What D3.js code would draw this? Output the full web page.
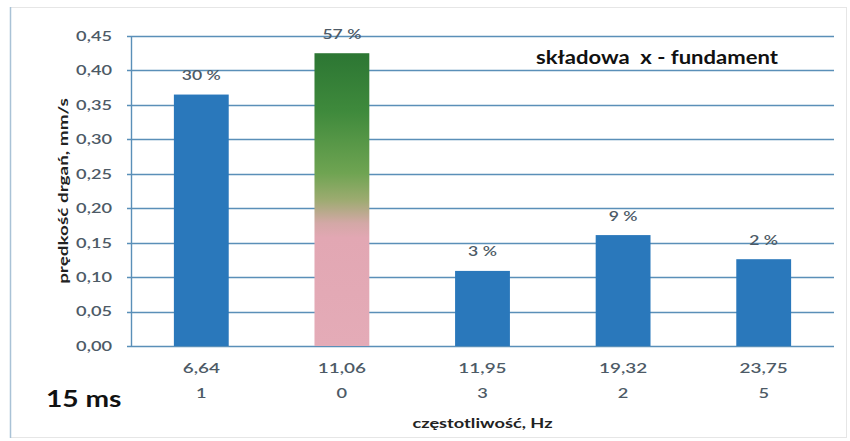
<!DOCTYPE html>
<html><head><meta charset="utf-8">
<script src="https://cdn.jsdelivr.net/npm/d3@7"></script>
<style>body{margin:0;background:#fff;}svg{display:block;font-family:Lato,"Open Sans",sans-serif;}</style>
</head><body><svg id="c" width="850" height="441"></svg>
<script>
const freqLabels = ["6,64","11,06","11,95","19,32","23,75"];
const orderLabels = ["1","0","3","2","5"];
const values = [0.365, 0.425, 0.109, 0.161, 0.126];
const percentLabels = ["30 %","57 %","3 %","9 %","2 %"];
const highlighted = [false, true, false, false, false];
const yTicks = [0,0.05,0.10,0.15,0.20,0.25,0.30,0.35,0.40,0.45];

const svg = d3.select("#c");
const m = {left:131, right:834, top:36, bottom:346};

function stretch(sel, f){
  sel.each(function(){
    const L = this.getComputedTextLength();
    d3.select(this).attr("textLength", L*f).attr("lengthAdjust","spacingAndGlyphs");
  });
}

// frame
svg.append("rect").attr("x",10.5).attr("y",7.5).attr("width",836).attr("height",430)
  .attr("fill","#fff").attr("stroke","#e6e6e6");
svg.append("line").attr("x1",10.5).attr("x2",10.5).attr("y1",7).attr("y2",438)
  .attr("stroke","#a9c2d6").attr("stroke-width",1.5);

const x = d3.scaleBand().domain(d3.range(values.length)).range([m.left, m.right])
  .paddingInner(0.61).paddingOuter(0.305);
const y = d3.scaleLinear().domain([0,0.45]).range([m.bottom, m.top]);

const defs = svg.append("defs");
const grad = defs.append("linearGradient").attr("id","g2").attr("x1",0).attr("y1",0).attr("x2",0).attr("y2",1);
[[0,"#2c7633"],[0.2,"#3f8a3c"],[0.41,"#6fa452"],[0.5,"#9cab70"],[0.58,"#d3a8a6"],[0.63,"#e2a7b3"],[1,"#e4abb7"]]
  .forEach(([o,c])=>grad.append("stop").attr("offset",o).attr("stop-color",c));

// gridlines
svg.append("g").selectAll("line").data(yTicks).join("line")
  .attr("x1",m.left-4).attr("x2",m.right)
  .attr("y1",d=>Math.round(y(d))+0.5).attr("y2",d=>Math.round(y(d))+0.5)
  .attr("stroke","#5a8fb8").attr("stroke-width",1.4);
svg.append("line").attr("x1",m.left+0.5).attr("x2",m.left+0.5).attr("y1",m.top).attr("y2",m.bottom)
  .attr("stroke","#5a8fb8").attr("stroke-width",1.4);

// y tick labels
svg.append("g").selectAll("text").data(yTicks).join("text")
  .attr("x",112).attr("y",d=>y(d)).attr("dy","0.35em").attr("text-anchor","end")
  .attr("font-size",14).attr("font-weight","600").attr("fill","#4d5a66")
  .text(d=>d3.format(".2f")(d).replace(".",","))
  .call(stretch,1.3);

// bars
svg.append("g").selectAll("rect").data(values).join("rect")
  .attr("x",(d,i)=>x(i)).attr("width",x.bandwidth())
  .attr("y",d=>y(d)).attr("height",d=>y(0)-y(d))
  .attr("fill",(d,i)=>highlighted[i]?"url(#g2)":"#2a78bb");

// percent labels
svg.append("g").selectAll("text").data(values).join("text")
  .attr("x",(d,i)=>x(i)+x.bandwidth()/2).attr("y",d=>y(d)-19).attr("dy","0.35em")
  .attr("text-anchor","middle").attr("font-size",13).attr("font-weight","600").attr("fill","#4d5a66")
  .text((d,i)=>percentLabels[i])
  .call(stretch,1.35);

// x labels
const xl = svg.append("g");
xl.selectAll("text.f").data(freqLabels).join("text").attr("class","f")
  .attr("x",(d,i)=>x(i)+x.bandwidth()/2).attr("y",368).attr("dy","0.35em").attr("text-anchor","middle")
  .attr("font-size",14).attr("font-weight","600").attr("fill","#4d5a66").text(d=>d)
  .call(stretch,1.35);
xl.selectAll("text.o").data(orderLabels).join("text").attr("class","o")
  .attr("x",(d,i)=>x(i)+x.bandwidth()/2).attr("y",393).attr("dy","0.35em").attr("text-anchor","middle")
  .attr("font-size",14).attr("font-weight","600").attr("fill","#4d5a66").text(d=>d)
  .call(stretch,1.3);

// axis titles
svg.append("text").attr("x",(m.left+m.right)/2).attr("y",423).attr("dy","0.35em").attr("text-anchor","middle")
  .attr("font-size",13).attr("font-weight","bold").attr("fill","#222").text("częstotliwość, Hz")
  .call(stretch,1.4);
svg.append("text").attr("transform","translate(63,191) rotate(-90)").attr("dy","0.35em").attr("text-anchor","middle")
  .attr("font-size",14).attr("font-weight","bold").attr("fill","#222").text("prędkość drgań, mm/s")
  .call(stretch,1.35);

// title
svg.append("text").attr("x",657).attr("y",57).attr("dy","0.35em").attr("text-anchor","middle")
  .attr("font-size",19).attr("font-weight","bold").attr("fill","#111").attr("xml:space","preserve")
  .text("składowa  x - fundament")
  .call(stretch,1.16);

svg.append("text").attr("x",46).attr("y",407).attr("font-size",22).attr("font-weight","bold")
  .attr("fill","#111").text("15 ms")
  .call(stretch,1.28);
</script></body></html>
